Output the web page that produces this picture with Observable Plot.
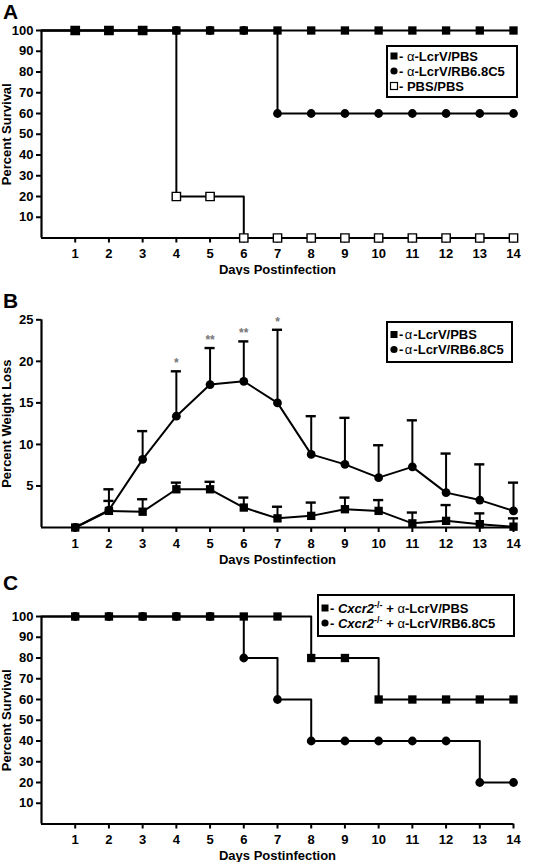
<!DOCTYPE html>
<html><head><meta charset="utf-8">
<script src="https://cdn.jsdelivr.net/npm/d3@7"></script>
<script src="https://cdn.jsdelivr.net/npm/@observablehq/plot@0.6"></script>
<style>
html,body{margin:0;padding:0;background:#fff;}
#wrap{position:relative;width:535px;height:862px;overflow:hidden;background:#fff;}
.panel{position:absolute;left:0;width:535px;}
.panel svg{display:block;}
</style></head><body><div id="wrap"></div>
<script>
// ---------- data ----------
const days = [0,1,2,3,4,5,6,7,8,9,10,11,12,13,14];
const dayTicks = [1,2,3,4,5,6,7,8,9,10,11,12,13,14];
const survivalTicks = [10,20,30,40,50,60,70,80,90,100];
const weightTicks = [5,10,15,20,25];

// Panel A: percent survival (day 0 .. 14)
const aLcrvPbs = [100,100,100,100,100,100,100,100,100,100,100,100,100,100,100];
const aLcrvRb6 = [100,100,100,100,100,100,100,60,60,60,60,60,60,60,60];
const aPbsPbs  = [100,100,100,100,20,20,0,0,0,0,0,0,0,0,0];

// Panel B: percent weight loss (day 1 .. 14), mean and upper error bar
const bDays = [1,2,3,4,5,6,7,8,9,10,11,12,13,14];
const bPbsMean  = [0,2.0,1.9,4.6,4.6,2.4,1.1,1.4,2.2,2.0,0.5,0.8,0.4,0.1];
const bPbsUpper = [0,3.2,3.4,5.4,5.5,3.6,2.5,3.0,3.6,3.3,1.8,2.7,1.7,1.1];
const bRb6Mean  = [0,2.1,8.2,13.4,17.2,17.6,15.0,8.8,7.6,6.0,7.3,4.2,3.3,2.0];
const bRb6Upper = [0,4.6,11.6,18.8,21.6,22.4,23.8,13.4,13.2,9.9,12.9,8.9,7.6,5.4];
const starDays   = [4,5,6,7];
const starLabels = ["*","**","**","*"];

// Panel C: percent survival, Cxcr2-/- mice (day 0 .. 14)
const cLcrvPbs = [100,100,100,100,100,100,100,100,80,80,60,60,60,60,60];
const cLcrvRb6 = [100,100,100,100,100,100,80,60,40,40,40,40,40,20,20];

const xLabel = "Days Postinfection";
const ySurvLabel = "Percent Survival";
const yWeightLabel = "Percent Weight Loss";

// ---------- helpers ----------
const FONT = "'Liberation Sans', Arial, Helvetica, sans-serif";
const STYLE = `font-family:${FONT};font-size:13px;font-weight:bold;color:#000;background:#fff;overflow:visible;`;
const SQ_R = 4.7, CI_R = 4.4;

function rowsOf(xs, ys, key) { return xs.map((d, i) => ({day: d, value: ys[i], key})); }

function frameMarks({yMax, yTicks, yLabel, letter, letterDy}) {
  return [
    Plot.axisX({ticks: dayTicks, tickSize: 5, tickPadding: 6, label: null, strokeWidth: 2}),
    Plot.axisY({ticks: yTicks, tickSize: 5, tickPadding: 3, label: null, strokeWidth: 2}),
    Plot.ruleY([0], {strokeWidth: 2.2}),
    Plot.ruleX([0], {y1: 0, y2: yMax, strokeWidth: 2.2}),
    Plot.text([xLabel], {frameAnchor: "bottom", dy: 32, textAnchor: "middle", lineAnchor: "middle", fontSize: 13, fontWeight: "bold"}),
    Plot.text([yLabel], {frameAnchor: "left", dx: -35, rotate: -90, textAnchor: "middle", lineAnchor: "middle", fontSize: 13, fontWeight: "bold"}),
    Plot.text([letter], {frameAnchor: "top-left", dx: -31, dy: letterDy, lineAnchor: "middle", textAnchor: "middle", fontSize: 21, fontWeight: "bold"})
  ];
}

function addLegend(svg, {x, y, w, h, rows}) {
  const g = d3.select(svg).append("g")
    .attr("font-family", FONT).attr("font-size", 13).attr("font-weight", "bold")
    .attr("text-anchor", "start");
  g.append("rect").attr("x", x).attr("y", y).attr("width", w).attr("height", h)
    .attr("fill", "#fff").attr("stroke", "#000").attr("stroke-width", 2);
  rows.forEach(r => {
    const mx = x + 7;
    if (r.shape === "square") {
      g.append("rect").attr("x", mx - 3.5).attr("y", r.y - 3.5).attr("width", 7).attr("height", 7)
        .attr("fill", r.open ? "#fff" : "#000").attr("stroke", "#000").attr("stroke-width", r.open ? 1.2 : 0);
    } else {
      g.append("circle").attr("cx", mx).attr("cy", r.y).attr("r", 3.6).attr("fill", "#000");
    }
    const t = g.append("text").attr("x", mx + 5).attr("y", r.y).attr("dy", "0.36em").attr("text-anchor", "start");
    r.parts.forEach(p => {
      const s = t.append("tspan").text(p.t);
      if (p.normal) s.attr("font-weight", "normal");
      if (p.italic) s.attr("font-style", "italic");
      if (p.size) s.attr("font-size", p.size);
      if (p.dy) s.attr("dy", p.dy);
      if (p.dx) s.attr("dx", p.dx);
    });
  });
}

function mount(node, top) {
  const d = document.createElement("div");
  d.className = "panel"; d.style.top = top + "px";
  d.appendChild(node);
  document.getElementById("wrap").appendChild(d);
}

// ---------- Panel A ----------
{
  const sA = rowsOf(days, aLcrvPbs, "a");
  const sB = rowsOf(days, aLcrvRb6, "b");
  const sC = rowsOf(days, aPbsPbs, "c");
  const pts = r => r.filter(d => d.day >= 1);
  const svg = Plot.plot({
    width: 535, height: 275, marginLeft: 41, marginRight: 22, marginTop: 30, marginBottom: 37.5,
    style: STYLE,
    x: {domain: [0, 14]},
    y: {domain: [0, 100]},
    marks: [
      ...frameMarks({yMax: 100, yTicks: survivalTicks, yLabel: ySurvLabel, letter: "A", letterDy: -18}),
      Plot.line([...sC, ...sB, ...sA], {x: "day", y: "value", z: "key", curve: "step-after", stroke: "#000", strokeWidth: 2}),
      Plot.dot(pts(sC), {x: "day", y: "value", symbol: "square", r: SQ_R, fill: "#fff", stroke: "#000", strokeWidth: 1.4}),
      Plot.dot(pts(sB), {x: "day", y: "value", symbol: "circle", r: CI_R, fill: "#000"}),
      Plot.dot(pts(sA), {x: "day", y: "value", symbol: "square", r: SQ_R, fill: "#000"})
    ]
  });
  addLegend(svg, {x: 387, y: 46, w: 130, h: 51, rows: [
    {shape: "square", y: 56, parts: [{t: "- "}, {t: "α", normal: true}, {t: "-LcrV/PBS"}]},
    {shape: "circle", y: 71, parts: [{t: "- "}, {t: "α", normal: true}, {t: "-LcrV/RB6.8C5"}]},
    {shape: "square", open: true, y: 86, parts: [{t: "- PBS/PBS"}]}
  ]});
  mount(svg, 0);
}

// ---------- Panel B ----------
{
  const mk = (mean, upper, key) => bDays.map((d, i) => ({day: d, value: mean[i], upper: upper[i], key}));
  const sP = mk(bPbsMean, bPbsUpper, "pbs");
  const sR = mk(bRb6Mean, bRb6Upper, "rb6");
  const err = [...sP, ...sR].filter(d => d.upper > d.value);
  const stars = starDays.map((d, i) => ({day: d, label: starLabels[i], y: bRb6Upper[bDays.indexOf(d)]}));
  const svg = Plot.plot({
    width: 535, height: 290, marginLeft: 41, marginRight: 22, marginTop: 44.3, marginBottom: 38,
    style: STYLE,
    x: {domain: [0, 14]},
    y: {domain: [0, 25]},
    marks: [
      ...frameMarks({yMax: 25, yTicks: weightTicks, yLabel: yWeightLabel, letter: "B", letterDy: -19}),
      Plot.ruleX(err, {x: "day", y1: "value", y2: "upper", stroke: "#000", strokeWidth: 2}),
      Plot.ruleY(err, {y: "upper", x1: d => d.day - 0.15, x2: d => d.day + 0.15, stroke: "#000", strokeWidth: 2.4}),
      Plot.line([...sP, ...sR], {x: "day", y: "value", z: "key", stroke: "#000", strokeWidth: 2}),
      Plot.dot(sR, {x: "day", y: "value", symbol: "circle", r: CI_R, fill: "#000"}),
      Plot.dot(sP, {x: "day", y: "value", symbol: "square", r: SQ_R, fill: "#000"}),
      Plot.text(stars, {x: "day", y: "y", text: "label", dy: -8, lineAnchor: "middle", fill: "#777", fontSize: 12, fontWeight: "bold"})
    ]
  });
  addLegend(svg, {x: 387, y: 47, w: 125, h: 40, rows: [
    {shape: "square", y: 59.5, parts: [{t: "-"}, {t: "α", normal: true, dx: 1.5}, {t: "-LcrV/PBS", dx: 1}]},
    {shape: "circle", y: 74.5, parts: [{t: "-"}, {t: "α", normal: true, dx: 1.5}, {t: "-LcrV/RB6.8C5", dx: 1}]}
  ]});
  mount(svg, 275);
}

// ---------- Panel C ----------
{
  const sA = rowsOf(days, cLcrvPbs, "a");
  const sB = rowsOf(days, cLcrvRb6, "b");
  const pts = r => r.filter(d => d.day >= 1);
  const svg = Plot.plot({
    width: 535, height: 297, marginLeft: 41, marginRight: 22, marginTop: 51, marginBottom: 38.5,
    style: STYLE,
    x: {domain: [0, 14]},
    y: {domain: [0, 100]},
    marks: [
      ...frameMarks({yMax: 100, yTicks: survivalTicks, yLabel: ySurvLabel, letter: "C", letterDy: -33}),
      Plot.line([...sB, ...sA], {x: "day", y: "value", z: "key", curve: "step-after", stroke: "#000", strokeWidth: 2}),
      Plot.dot(pts(sB), {x: "day", y: "value", symbol: "circle", r: CI_R, fill: "#000"}),
      Plot.dot(pts(sA), {x: "day", y: "value", symbol: "square", r: SQ_R, fill: "#000"})
    ]
  });
  addLegend(svg, {x: 318, y: 30, w: 196, h: 41, rows: [
    {shape: "square", y: 43, parts: [{t: "- "}, {t: "Cxcr2", italic: true}, {t: "-/-", size: 9, dy: -5}, {t: " + ", dy: 5}, {t: "α", normal: true}, {t: "-LcrV/PBS"}]},
    {shape: "circle", y: 58, parts: [{t: "- "}, {t: "Cxcr2", italic: true}, {t: "-/-", size: 9, dy: -5}, {t: " + ", dy: 5}, {t: "α", normal: true}, {t: "-LcrV/RB6.8C5"}]}
  ]});
  mount(svg, 565);
}
</script>
</body></html>
